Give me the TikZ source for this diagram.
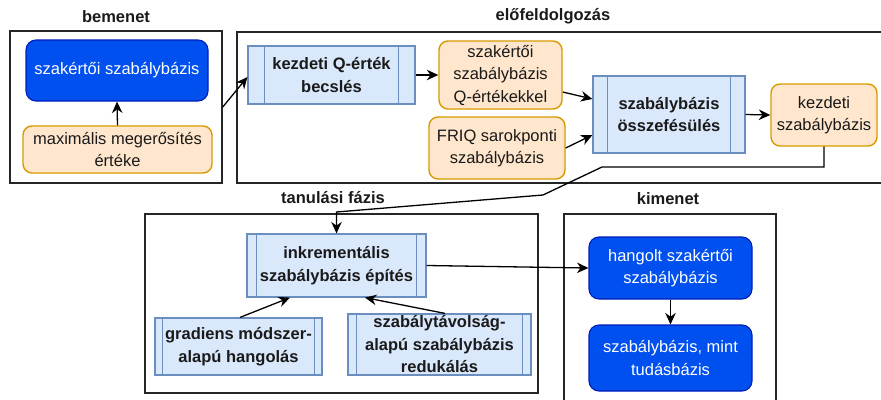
\documentclass[tikz,border=0pt]{standalone}
\usepackage{fontspec}
\setmainfont{Liberation Sans}
\usetikzlibrary{arrows.meta}
\definecolor{bluef}{HTML}{0050EF}
\definecolor{bluel}{HTML}{001DBC}
\definecolor{orf}{HTML}{FFE6CC}
\definecolor{orl}{HTML}{D79B00}
\definecolor{lbf}{HTML}{DAE8FC}
\definecolor{lbl}{HTML}{6C8EBF}
\definecolor{txt}{HTML}{1A1A1A}
\tikzset{
  base/.style={inner sep=0pt, align=center, text=txt, font=\fontsize{16.5}{22.5}\selectfont},
  container/.style={draw=black!85, line width=1.5pt, fill=none},
  ttl/.style={base, font=\fontsize{16.5}{22.5}\selectfont\bfseries},
  bluebox/.style={base, draw=bluel, fill=bluef, text=white, line width=1.1pt, rounded corners=10pt},
  orbox/.style={base, draw=orl, fill=orf, line width=1.4pt, rounded corners=9pt},
  procbox/.style={base, draw=lbl, fill=lbf, line width=1.2pt, font=\fontsize{16.5}{22.5}\selectfont\bfseries},
  procline/.style={draw=lbl, line width=1.2pt},
  arr/.style={draw=black, line width=1.3pt, -{Stealth[length=11.5pt,width=10.5pt]}}
}
\begin{document}
\begin{tikzpicture}[x=1pt,y=-1pt]
\useasboundingbox (0,0) rectangle (881,399);
\clip (0,0) rectangle (881,399);
\fill[white] (0,0) rectangle (881,399);

% containers
\node[container, minimum width=212pt, minimum height=152pt, inner sep=0pt] (bem) at (116,107) {};
\node[ttl] (tbem) at (116,17) {bemenet};
\node[container, minimum width=653pt, minimum height=151pt, inner sep=0pt] (elo) at (563.5,107.5) {};
\node[ttl] (telo) at (553,16) {előfeldolgozás};
\node[container, minimum width=393pt, minimum height=179pt, inner sep=0pt] (tan) at (341.5,303.5) {};
\node[ttl] (ttan) at (333,198) {tanulási fázis};
\node[container, minimum width=212pt, minimum height=195pt, inner sep=0pt] (kim) at (670,311.5) {};
\node[ttl] (tkim) at (668,199) {kimenet};

% bemenet
\node[bluebox, minimum width=182pt, minimum height=61pt] (n1) at (117,70.5) {szakértői szabálybázis};
\node[orbox, minimum width=189pt, minimum height=47pt] (n2) at (117.5,149.5) {maximális megerősítés\\értéke};

% előfeldolgozás
\node[procbox, minimum width=167pt, minimum height=58pt] (Q) at (331.5,75) {kezdeti Q-érték\\becslés};
\draw[procline] ([xshift=17pt]Q.north west) -- ([xshift=17pt]Q.south west);
\draw[procline] ([xshift=-17pt]Q.north east) -- ([xshift=-17pt]Q.south east);
\node[orbox, minimum width=123pt, minimum height=68pt] (Qk) at (500.5,75) {szakértői\\szabálybázis\\Q-értékekkel};
\node[orbox, minimum width=136pt, minimum height=62pt] (FR) at (497,148) {FRIQ sarokponti\\szabálybázis};
\node[procbox, minimum width=152pt, minimum height=77pt] (OS) at (669,114.5) {szabálybázis\\összefésülés};
\draw[procline] ([xshift=15pt]OS.north west) -- ([xshift=15pt]OS.south west);
\draw[procline] ([xshift=-15pt]OS.north east) -- ([xshift=-15pt]OS.south east);
\node[orbox, minimum width=106pt, minimum height=62pt] (KS) at (824,115) {kezdeti\\szabálybázis};

% tanulási fázis
\node[procbox, minimum width=179pt, minimum height=63pt] (IN) at (336.5,265.5) {inkrementális\\szabálybázis építés};
\draw[procline] ([xshift=10pt]IN.north west) -- ([xshift=10pt]IN.south west);
\draw[procline] ([xshift=-10pt]IN.north east) -- ([xshift=-10pt]IN.south east);
\node[procbox, minimum width=167pt, minimum height=57pt] (GR) at (238.5,346.5) {gradiens módszer-\\alapú hangolás};
\draw[procline] ([xshift=8pt]GR.north west) -- ([xshift=8pt]GR.south west);
\draw[procline] ([xshift=-8pt]GR.north east) -- ([xshift=-8pt]GR.south east);
\node[procbox, minimum width=183pt, minimum height=61pt] (RE) at (439.5,344.5) {szabálytávolság-\\alapú szabálybázis\\redukálás};
\draw[procline] ([xshift=9pt]RE.north west) -- ([xshift=9pt]RE.south west);
\draw[procline] ([xshift=-9pt]RE.north east) -- ([xshift=-9pt]RE.south east);

% kimenet
\node[bluebox, minimum width=163pt, minimum height=62pt] (HA) at (670.5,268) {hangolt szakértői\\szabálybázis};
\node[bluebox, minimum width=163pt, minimum height=66pt] (TU) at (670.5,358) {szabálybázis, mint\\tudásbázis};

% connectors
\draw[arr] (n2.north) -- (n1.south);
\draw[arr] (bem.east) -- ([yshift=-2pt]Q.west);
\draw[arr] (Q.east) -- (Qk.west);
\draw[arr] ([yshift=-17pt]Qk.east) -- ([yshift=15.5pt]OS.west);
\draw[arr] (FR.east) -- ([yshift=-20.5pt]OS.west);
\draw[arr] (OS.east) -- (KS.west);
\draw[arr] (KS.south) |- (602,167) -- (543,195) -- (336.5,212) -- (IN.north);
\draw[arr] (IN.east) -- (HA.west);
\draw[arr] (HA.south) -- (TU.north);
\draw[arr] ([xshift=1.5pt]GR.north) -- ([xshift=-46.5pt]IN.south);
\draw[arr] ([xshift=5.5pt]RE.north) -- ([xshift=28.5pt]IN.south);
\end{tikzpicture}
\end{document}
